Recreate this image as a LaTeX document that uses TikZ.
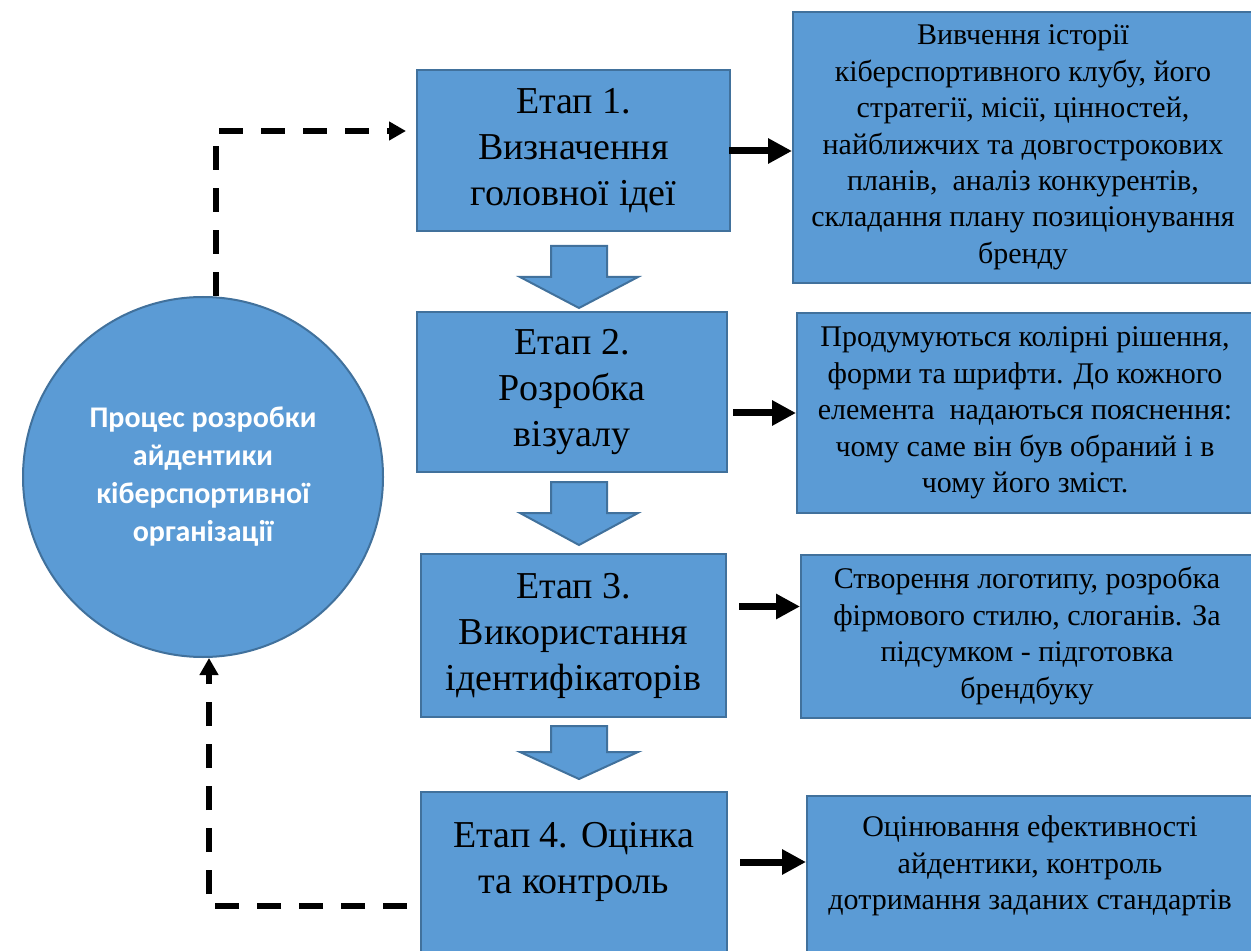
\documentclass[tikz,border=0pt]{standalone}
\usepackage{fontspec}
\setmainfont{Liberation Serif}
\newfontfamily\calibri{Carlito}
\usetikzlibrary{arrows.meta}
\usetikzlibrary{calc}
\definecolor{boxblue}{HTML}{5B9BD5}
\definecolor{edgeblue}{HTML}{41719C}

\begin{document}
\begin{tikzpicture}[x=0.5pt,y=-0.5pt]
    \useasboundingbox (0,0) rectangle (1251,951);
    \begin{scope}[line join=miter,
        stage node/.style={rectangle,fill=boxblue,draw=edgeblue,line width=1pt,inner sep=0pt,
            align=center,font=\fontsize{19}{23}\selectfont},
        info node/.style={rectangle,fill=boxblue,draw=edgeblue,line width=1pt,inner sep=0pt,
            align=center,font=\fontsize{15}{18.2}\selectfont},
        main node/.style={circle,fill=boxblue,draw=edgeblue,line width=1pt,minimum size=180pt,
            inner sep=0pt,align=center,text=white,font=\calibri\bfseries\fontsize{15}{19}\selectfont},
        bold arrow/.style={-{Triangle[length=12pt,width=12pt]},line width=3.5pt},
        dash arrow/.style={-{Triangle[length=8.5pt,width=9pt]},line width=3pt,dash pattern=on 12pt off 9pt},
        block arrow/.style={fill=boxblue,draw=edgeblue,line width=1pt}]

    % circle on the left
    \node[main node] (proc) at (203,477) {Процес розробки\\айдентики\\кіберспортивної\\організації};

    % stages
    \node[stage node,minimum width=156.5pt,minimum height=80.5pt] (s1) at (573.5,151)
        {Етап 1.\\Визначення\\головної ідеї};
    \node[stage node,minimum width=155pt,minimum height=80pt] (s2) at (572,392)
        {Етап 2.\\Розробка\\візуалу};
    \node[stage node,minimum width=152.5pt,minimum height=81.5pt] (s3) at (573.5,635.5)
        {Етап 3.\\Використання\\ідентифікаторів};
    \node[stage node,minimum width=153pt,minimum height=84pt] (s4) at (574,876) {};
    \node[font=\fontsize{19}{23}\selectfont,align=center,inner sep=0pt] (s4t) at (574,862)
        {Етап 4. Оцінка\\та контроль};

    % descriptions
    \node[info node,minimum width=230pt,minimum height=135.5pt] (r1) at (1023,147.5)
        {Вивчення історії\\кіберспортивного клубу, його\\стратегії, місії, цінностей,\\
         найближчих та довгострокових\\планів,\ \ аналіз конкурентів,\\складання плану позиціонування\\бренду};
    \node[info node,minimum width=228pt,minimum height=100pt] (r2) at (1025,413)
        {Продумуються колірні рішення,\\форми та шрифти. До кожного\\елемента\ \ надаються пояснення:\\
         чому саме він був обраний і в\\чому його зміст.};
    \node[info node,minimum width=226pt,minimum height=81.5pt] (r3) at (1027,636)
        {Створення логотипу, розробка\\фірмового стилю, слоганів. За\\підсумком - підготовка\\брендбуку};
    \node[info node,minimum width=223pt,minimum height=82pt] (r4) at (1030,878) {};
    \node[font=\fontsize{15}{18.2}\selectfont,align=center,inner sep=0pt] (r4t) at (1030,866)
        {Оцінювання ефективності\\айдентики, контроль\\дотримання заданих стандартів};

    % block arrows between stages
    \foreach \t/\m/\b in {246/277/308,482/513/545,726/752/779}
        \draw[block arrow] (551,\t) -- (607,\t) -- (607,\m) -- (638,\m) -- (579,\b)
            -- (520,\m) -- (551,\m) -- cycle;

    % arrows to descriptions
    \draw[bold arrow] ([xshift=-1pt]s1.east) -- (s1.east -| r1.west);
    \draw[bold arrow] (s2.east |- r2.west) ++(2.5pt,0) -- (r2.west);
    \draw[bold arrow] ([xshift=6pt,yshift=14.5pt]s3.east) -- ([yshift=14.5pt]s3.east -| r3.west);
    \draw[bold arrow] ([xshift=6pt]s4t.east -| s4.east) -- (s4t.east -| r4.west);

    % feedback loop
    \draw[dash arrow] ([xshift=6.5pt]proc.north) |- ([xshift=-5pt,yshift=10pt]s1.west);
    \draw[dash arrow] ([xshift=-6.5pt,yshift=-15pt]s4.west) -| ([xshift=3pt]proc.south);
    \end{scope}
\end{tikzpicture}
\end{document}
